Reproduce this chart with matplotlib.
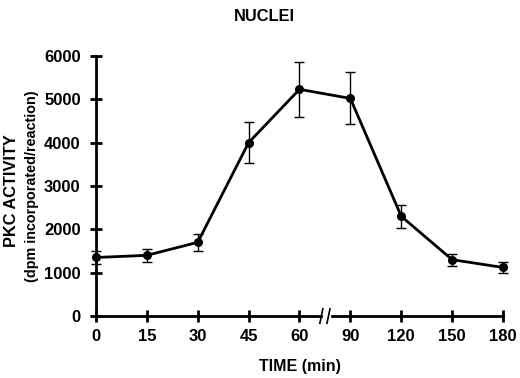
import matplotlib
matplotlib.use('Agg')
import matplotlib.pyplot as plt
import numpy as np

plt.rcParams['font.family'] = ['Liberation Sans', 'DejaVu Sans']
plt.rcParams['font.weight'] = 'bold'

# data
time_labels = ['0', '15', '30', '45', '60', '90', '120', '150', '180']
activity = [1350, 1400, 1700, 4000, 5230, 5020, 2300, 1300, 1120]
error = [150, 150, 200, 480, 630, 600, 270, 140, 120]
y_ticks = [0, 1000, 2000, 3000, 4000, 5000, 6000]

pos = np.arange(len(time_labels))
brk = 4.5  # axis break between 60 and 90

fig = plt.figure(figsize=(5.2, 3.78), dpi=100, facecolor='w')
ax = fig.add_axes([0.1846, 0.164, 0.7827, 0.688])

ax.errorbar(pos, activity, yerr=error, fmt='none', ecolor='k', elinewidth=1.0,
            capsize=3.5, capthick=1.0, clip_on=False, zorder=3)
ax.plot(pos, activity, color='k', lw=2.0, marker='o', ms=5.5, clip_on=False, zorder=4)

ax.set_xlim(0, 8)
ax.set_ylim(0, 6000)
ax.set_xticks(pos)
ax.set_xticklabels(time_labels)
ax.set_yticks(y_ticks)

for s in ['top', 'right', 'bottom']:
    ax.spines[s].set_visible(False)
ax.spines['left'].set_linewidth(2.0)

# broken x axis
tr = ax.get_xaxis_transform()
ax.plot([0, brk - 0.07], [0, 0], color='k', lw=2.0, transform=tr, clip_on=False)
ax.plot([brk + 0.13, 8], [0, 0], color='k', lw=2.0, transform=tr, clip_on=False)
for xb in [brk - 0.07, brk + 0.07]:
    ax.plot([xb - 0.03, xb + 0.03], [-0.028, 0.028], color='k', lw=1.2,
            transform=tr, clip_on=False)

ax.tick_params(axis='both', direction='inout', length=8, width=2.0, labelsize=12)
ax.tick_params(axis='x', pad=5)
ax.tick_params(axis='y', pad=7)
for lab in ax.get_xticklabels() + ax.get_yticklabels():
    lab.set_fontweight('bold')

fig.text(0.508, 0.975, 'NUCLEI', ha='center', va='top', fontsize=11.8, fontweight='bold')
fig.text(0.023, 0.497, 'PKC ACTIVITY', rotation=90, ha='center', va='center',
         fontsize=11.8, fontweight='bold')
fig.text(0.062, 0.508, '(dpm incorporated/reaction)', rotation=90, ha='center',
         va='center', fontsize=10.4, fontweight='bold')
fig.text(0.577, 0.03, 'TIME (min)', ha='center', va='center', fontsize=11.5,
         fontweight='bold')

fig.savefig('out.png', dpi=100)
